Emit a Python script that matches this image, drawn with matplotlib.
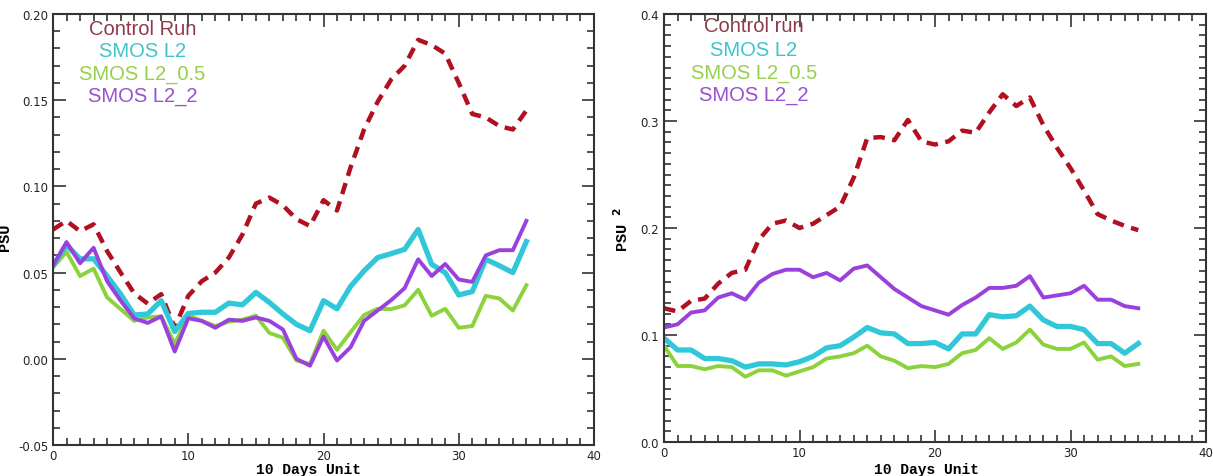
import matplotlib
matplotlib.use("Agg")
import matplotlib.pyplot as plt
from matplotlib.ticker import MultipleLocator, FormatStrFormatter

# ---------------- data ----------------
days = list(range(36))

left_control = [0.075, 0.080, 0.074, 0.078, 0.0625, 0.050, 0.038, 0.032, 0.0375, 0.018,
                0.0365, 0.045, 0.050, 0.0587, 0.072, 0.090, 0.0935, 0.089, 0.081, 0.077,
                0.092, 0.086, 0.111, 0.133, 0.149, 0.162, 0.170, 0.185, 0.182, 0.177,
                0.160, 0.142, 0.140, 0.135, 0.133, 0.144]
left_l2 = [0.054, 0.066, 0.058, 0.058, 0.048, 0.0375, 0.0254, 0.026, 0.0337, 0.0158,
           0.0263, 0.027, 0.027, 0.0323, 0.0313, 0.0385, 0.0327, 0.026, 0.020, 0.0163,
           0.0337, 0.029, 0.042, 0.051, 0.0587, 0.061, 0.0635, 0.075, 0.0548, 0.050,
           0.037, 0.039, 0.0577, 0.054, 0.050, 0.068]
left_l2_05 = [0.053, 0.062, 0.048, 0.0523, 0.0356, 0.0288, 0.022, 0.024, 0.0246, 0.0087,
              0.025, 0.022, 0.019, 0.0215, 0.0227, 0.025, 0.015, 0.0122, -0.001, -0.003,
              0.0163, 0.0052, 0.0154, 0.0254, 0.029, 0.0288, 0.031, 0.040, 0.025, 0.029,
              0.018, 0.019, 0.0365, 0.035, 0.028, 0.0427]
left_l2_2 = [0.054, 0.0677, 0.0554, 0.0644, 0.045, 0.0337, 0.0235, 0.0208, 0.0246, 0.0042,
             0.0235, 0.022, 0.018, 0.0227, 0.022, 0.024, 0.022, 0.017, 0.000, -0.004,
             0.0129, -0.001, 0.0067, 0.022, 0.028, 0.034, 0.041, 0.0577, 0.048, 0.055,
             0.046, 0.0446, 0.060, 0.063, 0.063, 0.080]

right_control = [0.125, 0.122, 0.132, 0.134, 0.148, 0.158, 0.161, 0.189, 0.204, 0.207,
                 0.200, 0.204, 0.212, 0.220, 0.247, 0.284, 0.285, 0.282, 0.301, 0.281,
                 0.278, 0.281, 0.291, 0.289, 0.308, 0.325, 0.314, 0.322, 0.296, 0.275,
                 0.256, 0.235, 0.213, 0.207, 0.202, 0.198]
right_l2 = [0.097, 0.086, 0.086, 0.078, 0.078, 0.076, 0.070, 0.073, 0.073, 0.072,
            0.075, 0.080, 0.088, 0.090, 0.098, 0.107, 0.102, 0.101, 0.092, 0.092,
            0.093, 0.087, 0.101, 0.101, 0.119, 0.117, 0.118, 0.127, 0.114, 0.108,
            0.108, 0.105, 0.092, 0.092, 0.083, 0.092]
right_l2_05 = [0.090, 0.071, 0.071, 0.068, 0.071, 0.070, 0.061, 0.067, 0.067, 0.062,
               0.066, 0.070, 0.078, 0.080, 0.083, 0.090, 0.080, 0.076, 0.069, 0.071,
               0.070, 0.073, 0.083, 0.086, 0.097, 0.087, 0.093, 0.105, 0.091, 0.087,
               0.087, 0.093, 0.077, 0.080, 0.071, 0.073]
right_l2_2 = [0.107, 0.110, 0.121, 0.123, 0.135, 0.139, 0.133, 0.149, 0.157, 0.161,
              0.161, 0.154, 0.158, 0.151, 0.162, 0.165, 0.154, 0.143, 0.135, 0.127,
              0.123, 0.119, 0.128, 0.135, 0.144, 0.144, 0.146, 0.155, 0.135, 0.137,
              0.139, 0.146, 0.133, 0.133, 0.127, 0.125]

left_names = ["Control Run", "SMOS L2", "SMOS L2_0.5", "SMOS L2_2"]
right_names = ["Control run", "SMOS L2", "SMOS L2_0.5", "SMOS L2_2"]
xlabel = "10 Days Unit"

# ---------------- styles ----------------
c_ctrl = "#b01020"
c_l2 = "#30c8d8"
c_l205 = "#8cd23c"
c_l22 = "#9a40dc"
txt_colors = ["#8e3a4c", "#3ec4d0", "#96d04c", "#9a50d0"]
axc = "#333333"

fig = plt.figure(figsize=(12.13, 4.77), dpi=100)
axL = fig.add_axes([53/1213, 1-446/477, 541/1213, 431/477])
axR = fig.add_axes([664/1213, 1-443/477, 542/1213, 428/477])


def style(ax, ymaj, ymin, fmt):
    ax.set_xlim(0, 40)
    ax.xaxis.set_major_locator(MultipleLocator(10))
    ax.xaxis.set_minor_locator(MultipleLocator(1))
    ax.yaxis.set_major_locator(MultipleLocator(ymaj))
    ax.yaxis.set_minor_locator(MultipleLocator(ymin))
    ax.yaxis.set_major_formatter(FormatStrFormatter(fmt))
    ax.tick_params(which="both", direction="in", top=True, right=True,
                   color=axc, width=1.2, labelsize=8.5, labelcolor="#222222")
    ax.tick_params(which="major", length=9)
    ax.tick_params(which="minor", length=5)
    ax.tick_params(axis="x", pad=3)
    for s in ax.spines.values():
        s.set_color(axc)
        s.set_linewidth(1.5)
    ax.set_xlabel(xlabel, family="Liberation Mono", fontweight="bold",
                  fontsize=10.5, va="bottom")


def draw(ax, ctrl, l2, l205, l22):
    ax.plot(days, ctrl, color=c_ctrl, lw=3.2, dashes=(2.6, 1.7))
    ax.plot(days, l205, color=c_l205, lw=2.8)
    ax.plot(days, l2, color=c_l2, lw=3.8)
    ax.plot(days, l22, color=c_l22, lw=2.8)


draw(axL, left_control, left_l2, left_l2_05, left_l2_2)
style(axL, 0.05, 0.01, "%.2f")
axL.set_ylim(-0.05, 0.20)
axL.set_ylabel("PSU", family="Liberation Mono", fontweight="bold", fontsize=11)
axL.yaxis.set_label_coords(-0.076, 0.485)
axL.xaxis.set_label_coords(0.473, -(477.5 - 446) / 431)

draw(axR, right_control, right_l2, right_l2_05, right_l2_2)
style(axR, 0.1, 0.01, "%.1f")
axR.set_ylim(0.0, 0.4)
axR.set_ylabel("PSU $^{\\mathbf{2}}$", family="Liberation Mono", fontweight="bold",
               fontsize=11)
axR.yaxis.set_label_coords(-0.061, 0.5)
axR.xaxis.set_label_coords(0.484, -(477.5 - 443) / 428)

ysL = [0.033, 0.084, 0.139, 0.188]
ysR = [0.028, 0.084, 0.137, 0.187]
for ax, names, xc, ys in ((axL, left_names, 0.165, ysL), (axR, right_names, 0.166, ysR)):
    for name, col, yy in zip(names, txt_colors, ys):
        ax.text(xc, 1 - yy, name, transform=ax.transAxes, ha="center", va="center",
                color=col, fontsize=14.5, family="Liberation Sans")

fig.savefig("out.png", dpi=100)
